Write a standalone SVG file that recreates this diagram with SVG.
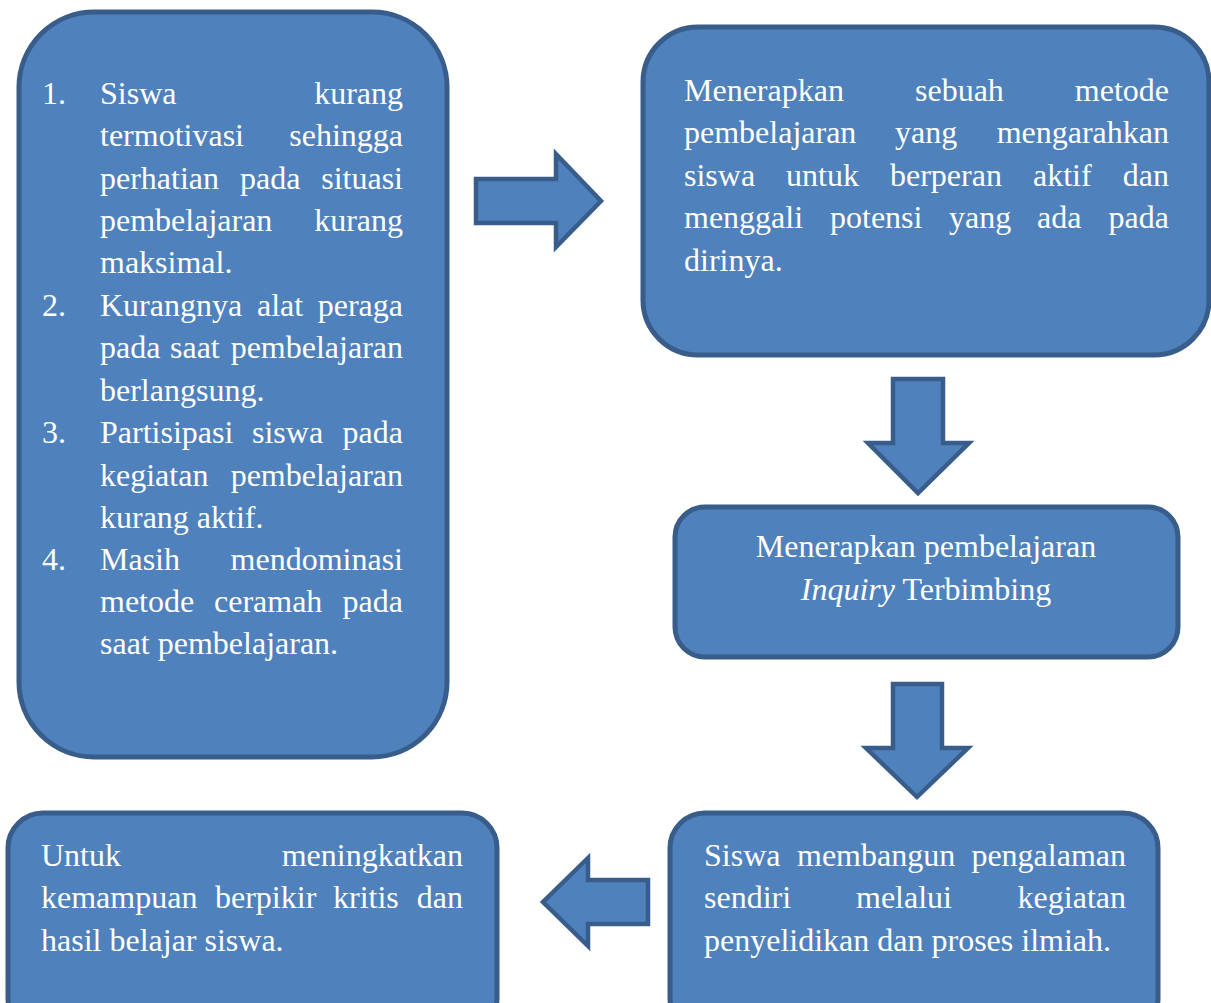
<svg xmlns="http://www.w3.org/2000/svg" width="1211" height="1003" viewBox="0 0 1211 1003">
<style>
.box{fill:#4F81BD;stroke:#385D8A;stroke-width:5}
.arr{fill:#4F81BD;stroke:#385D8A;stroke-width:4.5;stroke-linejoin:miter}
text{font-family:"Liberation Serif","Times New Roman",serif;font-size:32px;fill:#FFFFFF}
.e{text-anchor:end}
.m{text-anchor:middle}
</style>
<rect width="1211" height="1003" fill="#FFFFFF"/>
<g id="connectors">
<polygon class="arr" points="476,179 556,179 556,154 601,201 556,247 556,223 476,223"/>
<polygon class="arr" points="893,379 943,379 943,443 969,443 918,493 868,443 893,443"/>
<polygon class="arr" points="893,684 942,684 942,748 968,748 917,797 866,748 893,748"/>
<polygon class="arr" points="648,880 588,880 588,858 543,902 588,946 588,924 648,924"/>
</g>
<g id="node-problems">
<rect class="box" x="19" y="12" width="428" height="745" rx="75"/>
<text x="42" y="104">1.</text>
<text x="100" y="104">Siswa</text><text class="e" x="403" y="104">kurang</text>
<text x="100" y="146">termotivasi</text><text class="e" x="403" y="146">sehingga</text>
<text x="100" y="189">perhatian</text><text x="240" y="189">pada</text><text class="e" x="403" y="189">situasi</text>
<text x="100" y="231">pembelajaran</text><text class="e" x="403" y="231">kurang</text>
<text x="100" y="273">maksimal.</text>
<text x="42" y="316">2.</text>
<text x="100" y="316">Kurangnya</text><text x="257" y="316">alat</text><text class="e" x="403" y="316">peraga</text>
<text x="100" y="358">pada</text><text x="170" y="358">saat</text><text class="e" x="403" y="358">pembelajaran</text>
<text x="100" y="401">berlangsung.</text>
<text x="42" y="443">3.</text>
<text x="100" y="443">Partisipasi</text><text x="252" y="443">siswa</text><text class="e" x="403" y="443">pada</text>
<text x="100" y="486">kegiatan</text><text class="e" x="403" y="486">pembelajaran</text>
<text x="100" y="528">kurang aktif.</text>
<text x="42" y="570">4.</text>
<text x="100" y="570">Masih</text><text class="e" x="403" y="570">mendominasi</text>
<text x="100" y="612">metode</text><text x="214" y="612">ceramah</text><text class="e" x="403" y="612">pada</text>
<text x="100" y="654">saat pembelajaran.</text>
</g>
<g id="node-method">
<rect class="box" x="643" y="27" width="566" height="328" rx="55"/>
<text x="684" y="101">Menerapkan</text><text x="915" y="101">sebuah</text><text class="e" x="1169" y="101">metode</text>
<text x="684" y="143">pembelajaran</text><text x="895" y="143">yang</text><text class="e" x="1169" y="143">mengarahkan</text>
<text x="684" y="186">siswa</text><text x="786" y="186">untuk</text><text x="890" y="186">berperan</text><text x="1033" y="186">aktif</text><text class="e" x="1169" y="186">dan</text>
<text x="684" y="228">menggali</text><text x="830" y="228">potensi</text><text x="949" y="228">yang</text><text x="1037" y="228">ada</text><text class="e" x="1169" y="228">pada</text>
<text x="684" y="271">dirinya.</text>
</g>
<g id="node-inquiry">
<rect class="box" x="675" y="507" width="503" height="150" rx="30"/>
<text class="m" x="926" y="557">Menerapkan pembelajaran</text>
<text class="m" x="926" y="600"><tspan font-style="italic">Inquiry</tspan> Terbimbing</text>
</g>
<g id="node-experience">
<rect class="box" x="670" y="813" width="488" height="220" rx="35"/>
<text x="704" y="866">Siswa</text><text x="797" y="866">membangun</text><text class="e" x="1126" y="866">pengalaman</text>
<text x="704" y="908">sendiri</text><text x="856" y="908">melalui</text><text class="e" x="1126" y="908">kegiatan</text>
<text x="704" y="951">penyelidikan dan proses ilmiah.</text>
</g>
<g id="node-goal">
<rect class="box" x="8" y="813" width="489" height="220" rx="35"/>
<text x="41" y="866">Untuk</text><text class="e" x="463" y="866">meningkatkan</text>
<text x="41" y="908">kemampuan</text><text x="215" y="908">berpikir</text><text x="333" y="908">kritis</text><text class="e" x="463" y="908">dan</text>
<text x="41" y="951">hasil belajar siswa.</text>
</g>
</svg>
